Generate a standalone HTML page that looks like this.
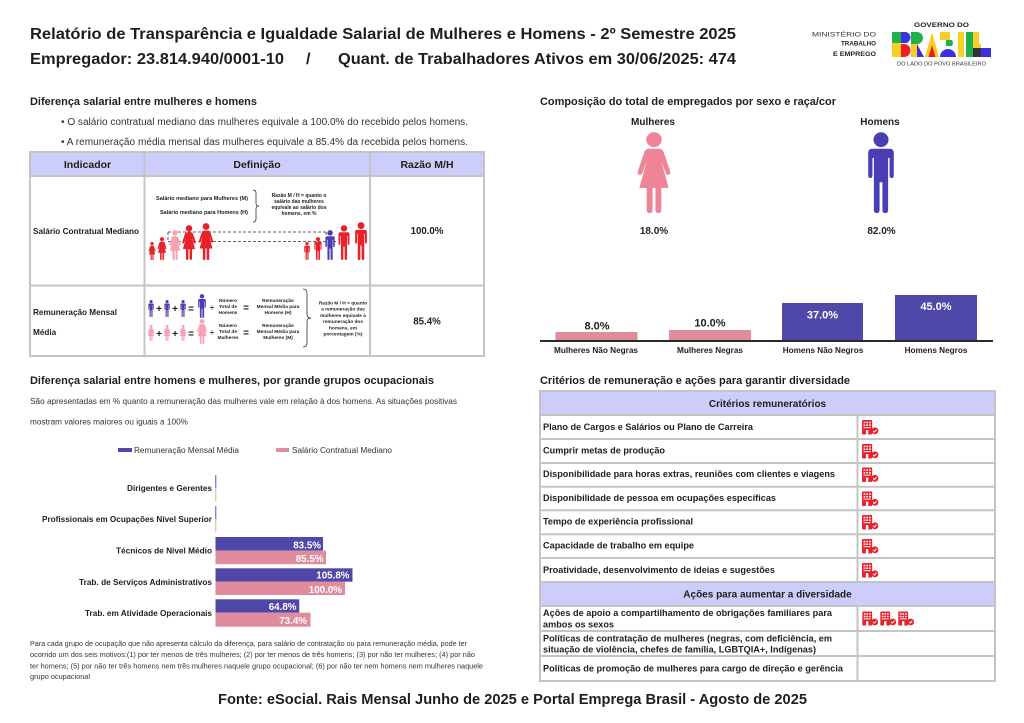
<!DOCTYPE html>
<html><head><meta charset="utf-8">
<style>
html,body{margin:0;padding:0;background:#fff;width:1024px;height:723px;overflow:hidden}
svg{display:block}
text{font-family:"Liberation Sans",Arial,sans-serif;fill:#1e1e1e}
.b{font-weight:bold}
</style></head>
<body>
<svg width="1024" height="723" viewBox="0 0 1024 723" xmlns="http://www.w3.org/2000/svg">
<defs>
<symbol id="man" viewBox="0 0 26 58" preserveAspectRatio="none">
<circle cx="13" cy="5.5" r="5.3"/>
<path d="M7 12H19Q22 12 22 15V31Q22 33 20.5 33Q19 33 19 31V18.5H18V56Q18 58 16 58Q14 58 14 56V36H12V56Q12 58 10 58Q8 58 8 56V18.5H7V31Q7 33 5.5 33Q4 33 4 31V15Q4 12 7 12Z"/>
</symbol>
<symbol id="woman" viewBox="0 0 26 58" preserveAspectRatio="none">
<circle cx="13" cy="5.5" r="5.3"/>
<path d="M9.5 12H16.5Q18.5 12 19.5 14L24 28Q24.6 30 23.2 30.6Q21.8 31.1 21.1 29.6L18 21L23 40H18V56Q18 58 16 58Q14 58 14 56V40H12V56Q12 58 10 58Q8 58 8 56V40H3L8 21L4.9 29.6Q4.2 31.1 2.8 30.6Q1.4 30 2 28L6.5 14Q7.5 12 9.5 12Z"/>
</symbol>
<symbol id="ico" viewBox="0 0 17 15">
<rect x="0" y="0" width="10.5" height="15" rx="1" fill="#e8212b"/>
<rect x="1.6" y="1.8" width="1.8" height="1.6" fill="#fff"/>
<rect x="4.4" y="1.8" width="1.8" height="1.6" fill="#fff"/>
<rect x="7.2" y="1.8" width="1.8" height="1.6" fill="#fff"/>
<rect x="1.6" y="4.6" width="1.8" height="1.6" fill="#fff"/>
<rect x="4.4" y="4.6" width="1.8" height="1.6" fill="#fff"/>
<rect x="7.2" y="4.6" width="1.8" height="1.6" fill="#fff"/>
<rect x="1.6" y="7.4" width="7.4" height="1" fill="#fff"/>
<rect x="4" y="10.5" width="2.5" height="4.5" fill="#fff"/>
<circle cx="13.3" cy="11.2" r="3.6" fill="#e8212b"/>
<path d="M11.6 11.2l1.2 1.3l2.2-2.5" stroke="#fff" stroke-width="1.1" fill="none"/>
</symbol>
</defs>

<!-- Header -->
<text x="30" y="39" class="b" font-size="16" textLength="706" lengthAdjust="spacingAndGlyphs">Relatório de Transparência e Igualdade Salarial de Mulheres e Homens - 2º Semestre 2025</text>
<text x="30" y="64" class="b" font-size="16" textLength="254" lengthAdjust="spacingAndGlyphs">Empregador: 23.814.940/0001-10</text>
<text x="306" y="64" class="b" font-size="16">/</text>
<text x="338" y="64" class="b" font-size="16" textLength="398" lengthAdjust="spacingAndGlyphs">Quant. de Trabalhadores Ativos em 30/06/2025: 474</text>

<!-- Logo -->
<text x="876" y="36.5" font-size="6" text-anchor="end" fill="#333" textLength="64" lengthAdjust="spacingAndGlyphs" style="fill:#333">MINISTÉRIO DO</text>
<text x="876" y="45.5" font-size="6" class="b" text-anchor="end" textLength="35" lengthAdjust="spacingAndGlyphs">TRABALHO</text>
<text x="876" y="56" font-size="6" class="b" text-anchor="end" textLength="43" lengthAdjust="spacingAndGlyphs">E EMPREGO</text>
<text x="941.5" y="27" font-size="6.5" class="b" text-anchor="middle" textLength="55" lengthAdjust="spacingAndGlyphs">GOVERNO DO</text>
<g>
<rect x="892" y="32" width="9" height="11" fill="#1fb14a"/>
<rect x="892" y="43" width="9" height="14" fill="#f8cf26"/>
<path d="M901 32h4a5.5 5.5 0 0 1 0 11h-4z" fill="#3b2fe0"/>
<path d="M901 44h3a6.5 6.5 0 0 1 0 13h-3z" fill="#ee1c25"/>
<path d="M911 32h6a6 6 0 0 1 0 12h-6z" fill="#1fb14a"/>
<rect x="911" y="44" width="6" height="13" fill="#f8cf26"/>
<path d="M917 44l7 13h-7z" fill="#3b2fe0"/>
<path d="M925 57l7-25l7 25z" fill="#f8cf26"/>
<path d="M928.5 57l3.5-12l3.5 12z" fill="#ee1c25"/>
<path d="M940 32h10v8h-10z" fill="#f8cf26"/>
<path d="M940 57a8 8 0 0 1 16 0z" fill="#3b2fe0"/>
<path d="M946 40h6a6 6 0 0 1 0 6h-6z" fill="#1fb14a"/>
<rect x="958" y="32" width="6" height="25" fill="#f8cf26"/>
<rect x="966" y="32" width="7" height="25" fill="#1fb14a"/>
<rect x="973" y="32" width="6" height="16" fill="#f8cf26"/>
<rect x="973" y="48" width="8" height="9" fill="#333"/>
<rect x="981" y="48" width="10" height="9" fill="#3b2fe0"/>
<rect x="973" y="44" width="8" height="4" fill="#f8cf26"/>
</g>
<text x="941.5" y="65.5" font-size="5" text-anchor="middle" textLength="89" lengthAdjust="spacingAndGlyphs" style="fill:#333">DO LADO DO POVO BRASILEIRO</text>

<!-- Section 1 -->
<text x="30" y="105" class="b" font-size="11" textLength="227" lengthAdjust="spacingAndGlyphs">Diferença salarial entre mulheres e homens</text>
<text x="61" y="125" font-size="9.7" textLength="407" lengthAdjust="spacingAndGlyphs" style="fill:#333">• O salário contratual mediano das mulheres equivale a 100.0% do recebido pelos homens.</text>
<text x="61" y="145" font-size="9.7" textLength="407" lengthAdjust="spacingAndGlyphs" style="fill:#333">• A remuneração média mensal das mulheres equivale a 85.4% da recebida pelos homens.</text>

<!-- Table 1 -->
<rect x="30" y="152" width="454" height="24" fill="#cdcdfb"/>
<g stroke="#c4c4c4" stroke-width="2" fill="none">
<rect x="30" y="152" width="454" height="204"/>
<line x1="30" y1="176" x2="484" y2="176"/>
<line x1="30" y1="285.5" x2="484" y2="285.5"/>
<line x1="144.5" y1="152" x2="144.5" y2="356"/>
<line x1="370" y1="152" x2="370" y2="356"/>
</g>
<text x="87.5" y="168" class="b" font-size="10.5" text-anchor="middle">Indicador</text>
<text x="257" y="168" class="b" font-size="10.5" text-anchor="middle">Definição</text>
<text x="427" y="168" class="b" font-size="10.5" text-anchor="middle">Razão M/H</text>
<text x="33" y="234" class="b" font-size="8.2" textLength="106" lengthAdjust="spacingAndGlyphs">Salário Contratual Mediano</text>
<text x="427" y="234" class="b" font-size="9.7" text-anchor="middle">100.0%</text>
<text x="33" y="315" class="b" font-size="8.2" textLength="84" lengthAdjust="spacingAndGlyphs">Remuneração Mensal</text>
<text x="33" y="335" class="b" font-size="8.2">Média</text>
<text x="427" y="324.5" class="b" font-size="9.7" text-anchor="middle">85.4%</text>

<!-- Def row 1 -->
<text x="248" y="200" class="b" font-size="5" text-anchor="end" textLength="92" lengthAdjust="spacingAndGlyphs">Salário mediano para Mulheres (M)</text>
<text x="248" y="214" class="b" font-size="5" text-anchor="end" textLength="88" lengthAdjust="spacingAndGlyphs">Salário mediano para Homens (H)</text>
<path d="M253 190q3 0 3 3v10q0 3 3 3q-3 0-3 3v10q0 3-3 3" stroke="#333" stroke-width="0.8" fill="none"/>
<g font-size="5" class="b" text-anchor="middle">
<text x="299" y="197" class="b">Razão M / H = quanto o</text>
<text x="299" y="203" class="b">salário das mulheres</text>
<text x="299" y="209" class="b">equivale ao salário dos</text>
<text x="299" y="215" class="b">homens, em %</text>
</g>
<g stroke="#333" stroke-width="0.8" stroke-dasharray="3 2" fill="none">
<line x1="168" y1="232" x2="326" y2="232"/>
<line x1="168" y1="241.5" x2="337" y2="241.5"/>
<line x1="168" y1="232" x2="168" y2="241.5"/>
<line x1="326" y1="232" x2="326" y2="241.5"/>
</g>
<use href="#woman" x="148" y="242" width="8.1" height="18" fill="#e8212b"/>
<use href="#woman" x="156.8" y="237" width="10.4" height="23" fill="#e8212b"/>
<use href="#woman" x="168.3" y="230" width="13.5" height="30" fill="#f4a3b2"/>
<use href="#woman" x="181.1" y="225" width="15.8" height="35" fill="#e8212b"/>
<use href="#woman" x="197.7" y="223" width="16.7" height="37" fill="#e8212b"/>
<use href="#man" x="303" y="242" width="8.1" height="18" fill="#e8212b"/>
<use href="#man" x="312.8" y="237" width="10.4" height="23" fill="#e8212b"/>
<use href="#man" x="323.3" y="230" width="13.5" height="30" fill="#4a3eb4"/>
<use href="#man" x="336.1" y="225" width="15.8" height="35" fill="#e8212b"/>
<use href="#man" x="352.5" y="222" width="17" height="38" fill="#e8212b"/>

<!-- Def row 2 -->
<use href="#man" x="147.2" y="300" width="7.7" height="17" fill="#4a3eb4"/>
<use href="#man" x="163.2" y="300" width="7.7" height="17" fill="#4a3eb4"/>
<use href="#man" x="179.2" y="300" width="7.7" height="17" fill="#4a3eb4"/>
<use href="#man" x="196.5" y="294" width="11" height="24" fill="#4a3eb4"/>
<use href="#woman" x="147.2" y="325" width="7.7" height="16" fill="#f4a3b2"/>
<use href="#woman" x="163.2" y="325" width="7.7" height="16" fill="#f4a3b2"/>
<use href="#woman" x="179.2" y="325" width="7.7" height="16" fill="#f4a3b2"/>
<use href="#woman" x="196.3" y="319" width="11.5" height="25" fill="#f4a3b2"/>
<g class="b" font-size="10" text-anchor="middle">
<text x="159" y="312" class="b">+</text><text x="175" y="312" class="b">+</text><text x="191" y="312" class="b">=</text>
<text x="159" y="337" class="b">+</text><text x="175" y="337" class="b">+</text><text x="191" y="337" class="b">=</text>
<text x="212" y="310" class="b" font-size="8">÷</text><text x="212" y="335" class="b" font-size="8">÷</text>
<text x="246" y="311" class="b" font-size="10">=</text><text x="246" y="336" class="b" font-size="10">=</text>
</g>
<g class="b" font-size="4.8" text-anchor="middle">
<text x="228" y="302" class="b">Número</text><text x="228" y="308" class="b">Total de</text><text x="228" y="314" class="b">Homens</text>
<text x="278" y="302" class="b">Remuneração</text><text x="278" y="308" class="b">Mensal Média para</text><text x="278" y="314" class="b">Homens (H)</text>
<text x="228" y="327" class="b">Número</text><text x="228" y="333" class="b">Total de</text><text x="228" y="339" class="b">Mulheres</text>
<text x="278" y="327" class="b">Remuneração</text><text x="278" y="333" class="b">Mensal Média para</text><text x="278" y="339" class="b">Mulheres (M)</text>
</g>
<path d="M303 289q4 0 4 4v21q0 4 4 4q-4 0-4 4v21q0 4-4 4" stroke="#333" stroke-width="0.8" fill="none"/>
<g class="b" font-size="4.8" text-anchor="middle">
<text x="343" y="304.5" class="b">Razão M / H = quanto</text>
<text x="343" y="310.7" class="b">a remuneração das</text>
<text x="343" y="316.9" class="b">mulheres equivale à</text>
<text x="343" y="323.1" class="b">remuneração dos</text>
<text x="343" y="329.3" class="b">homens, em</text>
<text x="343" y="335.5" class="b">porcentagem (%)</text>
</g>

<!-- Section 2: composition -->
<text x="540" y="105" class="b" font-size="11" textLength="296" lengthAdjust="spacingAndGlyphs">Composição do total de empregados por sexo e raça/cor</text>
<text x="653" y="125" class="b" font-size="10" text-anchor="middle">Mulheres</text>
<text x="880" y="125" class="b" font-size="10" text-anchor="middle">Homens</text>
<use href="#woman" x="635" y="132" width="38" height="81" fill="#ef8497"/>
<use href="#man" x="862.5" y="132" width="37" height="81" fill="#4a3eb4"/>
<text x="654" y="234" class="b" font-size="10" text-anchor="middle">18.0%</text>
<text x="881.5" y="234" class="b" font-size="10" text-anchor="middle">82.0%</text>

<rect x="555.5" y="332" width="82" height="9" fill="#e08c9c"/>
<rect x="669" y="330" width="82" height="11" fill="#e08c9c"/>
<rect x="782" y="303" width="81" height="38" fill="#5048a8"/>
<rect x="895" y="295" width="82" height="46" fill="#5048a8"/>
<line x1="540" y1="341" x2="993" y2="341" stroke="#2a2a2a" stroke-width="2"/>
<text x="597" y="329.5" class="b" font-size="11" text-anchor="middle">8.0%</text>
<text x="710" y="326.5" class="b" font-size="11" text-anchor="middle">10.0%</text>
<text x="822.5" y="318.3" class="b" font-size="11" text-anchor="middle" style="fill:#fff">37.0%</text>
<text x="936" y="310" class="b" font-size="11" text-anchor="middle" style="fill:#fff">45.0%</text>
<g class="b" font-size="8.2" text-anchor="middle">
<text x="596" y="353" class="b" textLength="84" lengthAdjust="spacingAndGlyphs">Mulheres Não Negras</text>
<text x="710" y="353" class="b">Mulheres Negras</text>
<text x="823" y="353" class="b">Homens Não Negros</text>
<text x="936" y="353" class="b">Homens Negros</text>
</g>

<!-- Section 3 -->
<text x="30" y="384" class="b" font-size="11" textLength="404" lengthAdjust="spacingAndGlyphs">Diferença salarial entre homens e mulheres, por grande grupos ocupacionais</text>
<text x="30" y="404" font-size="8" textLength="427" lengthAdjust="spacingAndGlyphs" style="fill:#333">São apresentadas em % quanto a remuneração das mulheres vale em relação à dos homens. As situações positivas</text>
<text x="30" y="424.5" font-size="8" textLength="158" lengthAdjust="spacingAndGlyphs" style="fill:#333">mostram valores maiores ou iguais a 100%</text>
<rect x="118" y="448" width="14" height="4" fill="#5048a8"/>
<text x="134" y="453" font-size="8" textLength="105" lengthAdjust="spacingAndGlyphs" style="fill:#333">Remuneração Mensal Média</text>
<rect x="276" y="448" width="13" height="4" fill="#e08c9c"/>
<text x="292" y="453" font-size="8" textLength="100" lengthAdjust="spacingAndGlyphs" style="fill:#333">Salário Contratual Mediano</text>

<g class="b" font-size="8" text-anchor="end">
<text x="212" y="491" class="b" textLength="85" lengthAdjust="spacingAndGlyphs">Dirigentes e Gerentes</text>
<text x="212" y="522" class="b" textLength="170" lengthAdjust="spacingAndGlyphs">Profissionais em Ocupações Nível Superior</text>
<text x="212" y="553.5" class="b" textLength="96" lengthAdjust="spacingAndGlyphs">Técnicos de Nível Médio</text>
<text x="212" y="585" class="b" textLength="133" lengthAdjust="spacingAndGlyphs">Trab. de Serviços Administrativos</text>
<text x="212" y="616" class="b" textLength="127" lengthAdjust="spacingAndGlyphs">Trab. em Atividade Operacionais</text>
</g>
<rect x="215" y="475" width="1.4" height="13" fill="#8b84cc"/>
<rect x="215" y="488" width="1.4" height="13.5" fill="#f2bcc7"/>
<rect x="215" y="506" width="1.4" height="13" fill="#8b84cc"/>
<rect x="215" y="519" width="1.4" height="13.5" fill="#f2bcc7"/>
<rect x="215.5" y="537" width="107.5" height="13.7" fill="#5048a8"/>
<rect x="215.5" y="550.7" width="110.5" height="13.5" fill="#e08c9c"/>
<rect x="215.5" y="568.3" width="137" height="13.4" fill="#5048a8"/>
<rect x="215.5" y="581.7" width="129.5" height="13.3" fill="#e08c9c"/>
<rect x="215.5" y="599.3" width="83.8" height="13.4" fill="#5048a8"/>
<rect x="215.5" y="612.7" width="95" height="14" fill="#e08c9c"/>
<g class="b" font-size="9.8" text-anchor="end" style="fill:#fff">
<text x="321" y="548.5" class="b" style="fill:#fff">83.5%</text>
<text x="323.5" y="562" class="b" style="fill:#fff">85.5%</text>
<text x="349.5" y="578.5" class="b" style="fill:#fff">105.8%</text>
<text x="342" y="593" class="b" style="fill:#fff">100.0%</text>
<text x="296.5" y="610" class="b" style="fill:#fff">64.8%</text>
<text x="307" y="623.8" class="b" style="fill:#fff">73.4%</text>
</g>

<g font-size="7" style="fill:#333">
<text x="30" y="646" textLength="437" lengthAdjust="spacingAndGlyphs" style="fill:#333">Para cada grupo de ocupação que não apresenta cálculo da diferença, para salário de contratação ou para remuneração média, pode ter</text>
<text x="30" y="657" textLength="445" lengthAdjust="spacingAndGlyphs" style="fill:#333">ocorrido um dos seis motivos:(1) por ter menos de três mulheres; (2) por ter menos de três homens; (3) por não ter mulheres; (4) por não</text>
<text x="30" y="668.5" textLength="453" lengthAdjust="spacingAndGlyphs" style="fill:#333">ter homens; (5) por não ter três homens nem três mulheres naquele grupo ocupacional; (6) por não ter nem homens nem mulheres naquele</text>
<text x="30" y="679" textLength="60" lengthAdjust="spacingAndGlyphs" style="fill:#333">grupo ocupacional</text>
</g>

<!-- Section 4 -->
<text x="540" y="384" class="b" font-size="11" textLength="310" lengthAdjust="spacingAndGlyphs">Critérios de remuneração e ações para garantir diversidade</text>
<rect x="540" y="391" width="455" height="24" fill="#cdcdfb"/>
<rect x="540" y="582" width="455" height="24" fill="#cdcdfb"/>
<g stroke="#c4c4c4" stroke-width="2" fill="none">
<rect x="540" y="391" width="455" height="290"/>
<line x1="540" y1="415" x2="995" y2="415"/>
<line x1="540" y1="439" x2="995" y2="439"/>
<line x1="540" y1="463" x2="995" y2="463"/>
<line x1="540" y1="486.7" x2="995" y2="486.7"/>
<line x1="540" y1="510.3" x2="995" y2="510.3"/>
<line x1="540" y1="534.3" x2="995" y2="534.3"/>
<line x1="540" y1="558" x2="995" y2="558"/>
<line x1="540" y1="582" x2="995" y2="582"/>
<line x1="540" y1="606" x2="995" y2="606"/>
<line x1="540" y1="631" x2="995" y2="631"/>
<line x1="540" y1="656" x2="995" y2="656"/>
<line x1="857.5" y1="415" x2="857.5" y2="582"/>
<line x1="857.5" y1="606" x2="857.5" y2="681"/>
</g>
<text x="767.5" y="407" class="b" font-size="10" text-anchor="middle">Critérios remuneratórios</text>
<text x="767.5" y="597.5" class="b" font-size="10" text-anchor="middle">Ações para aumentar a diversidade</text>
<g class="b" font-size="9">
<text x="543" y="430" class="b" textLength="210" lengthAdjust="spacingAndGlyphs">Plano de Cargos e Salários ou Plano de Carreira</text>
<text x="543" y="453.5" class="b" textLength="122" lengthAdjust="spacingAndGlyphs">Cumprir metas de produção</text>
<text x="543" y="477" class="b" textLength="292" lengthAdjust="spacingAndGlyphs">Disponibilidade para horas extras, reuniões com clientes e viagens</text>
<text x="543" y="501" class="b" textLength="233" lengthAdjust="spacingAndGlyphs">Disponibilidade de pessoa em ocupações específicas</text>
<text x="543" y="524.5" class="b" textLength="150" lengthAdjust="spacingAndGlyphs">Tempo de experiência profissional</text>
<text x="543" y="548.5" class="b" textLength="151" lengthAdjust="spacingAndGlyphs">Capacidade de trabalho em equipe</text>
<text x="543" y="573" class="b" textLength="232" lengthAdjust="spacingAndGlyphs">Proatividade, desenvolvimento de ideias e sugestões</text>
<text x="543" y="616" class="b" textLength="289" lengthAdjust="spacingAndGlyphs">Ações de apoio a compartilhamento de obrigações familiares para</text>
<text x="543" y="627.5" class="b" textLength="71" lengthAdjust="spacingAndGlyphs">ambos os sexos</text>
<text x="543" y="641.5" class="b" textLength="289" lengthAdjust="spacingAndGlyphs">Políticas de contratação de mulheres (negras, com deficiência, em</text>
<text x="543" y="652.5" class="b" textLength="273" lengthAdjust="spacingAndGlyphs">situação de violência, chefes de família, LGBTQIA+, Indígenas)</text>
<text x="543" y="671.5" class="b" textLength="300" lengthAdjust="spacingAndGlyphs">Políticas de promoção de mulheres para cargo de direção e gerência</text>
</g>
<use href="#ico" x="862" y="420" width="16.5" height="14.5"/>
<use href="#ico" x="862" y="444" width="16.5" height="14.5"/>
<use href="#ico" x="862" y="467.5" width="16.5" height="14.5"/>
<use href="#ico" x="862" y="491.5" width="16.5" height="14.5"/>
<use href="#ico" x="862" y="515" width="16.5" height="14.5"/>
<use href="#ico" x="862" y="539" width="16.5" height="14.5"/>
<use href="#ico" x="862" y="563" width="16.5" height="14.5"/>
<use href="#ico" x="862" y="611.5" width="16.5" height="14"/>
<use href="#ico" x="880" y="611.5" width="16.5" height="14"/>
<use href="#ico" x="898" y="611.5" width="16.5" height="14"/>

<!-- Footer -->
<text x="218" y="704" class="b" font-size="14.5" textLength="589" lengthAdjust="spacingAndGlyphs">Fonte: eSocial. Rais Mensal Junho de 2025 e Portal Emprega Brasil - Agosto de 2025</text>
</svg>
</body></html>
